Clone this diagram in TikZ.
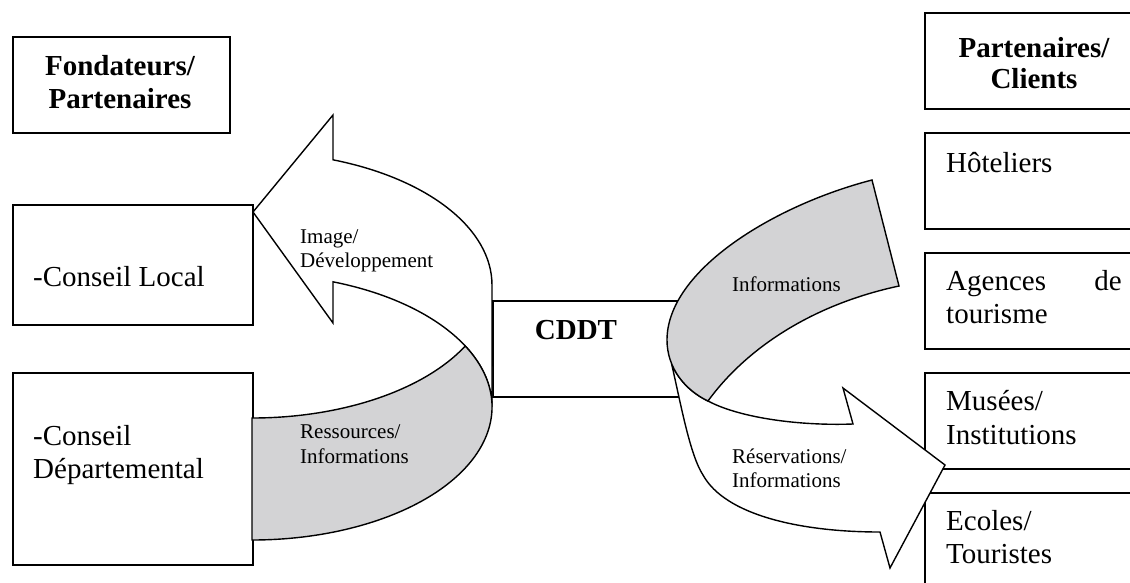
\documentclass[tikz,border=0pt]{standalone}
\usepackage{fontspec}
\setmainfont{Liberation Serif}
\definecolor{bandgray}{RGB}{211,211,213}
\tikzset{
  cadre/.style={draw, line width=1.8pt, inner sep=0pt, anchor=north west},
  ruban/.style={draw, line width=1.4pt, line join=miter},
  gros/.style={inner sep=0pt, anchor=base west, font=\fontsize{29}{34}\selectfont},
  titre/.style={inner sep=0pt, anchor=base, font=\fontsize{29}{34}\selectfont\bfseries},
  petit/.style={inner sep=0pt, anchor=base west, font=\fontsize{21}{24}\selectfont},
}

\begin{document}
\begin{tikzpicture}[x=1pt, y=-1pt]
		\useasboundingbox (0,0) rectangle (1130,582);
		\clip (0,0) rectangle (1130,582);
		%%%%% START %%%%%
		
		\node[cadre, minimum width=217pt, minimum height=96pt] (fond) at (12,36) {};
		\node[cadre, minimum width=240pt, minimum height=120pt] (local) at (12,204) {};
		\node[cadre, minimum width=240pt, minimum height=192pt] (dept) at (12,372) {};
		
		\foreach \nom/\haut in {part/12, hotel/132, agence/252, musee/372, ecole/492}
			\node[cadre, minimum width=240pt, minimum height=96pt] (\nom) at (924,\haut) {};
		
		\node[cadre, minimum width=203pt, minimum height=96pt] (cddt) at (492,300) {};
		
		% ruban gauche
		\draw[ruban, fill=white] (333,159.8) arc[start angle=-70.27, end angle=0, x radius=240, y radius=133]
			-- (492,407) arc[start angle=0, end angle=-70.27, x radius=240, y radius=133]
			-- (333,323) -- (253,212) -- (333,115) -- cycle;
		\draw[ruban, fill=bandgray] (252,418) arc[start angle=90, end angle=27.3, x radius=240, y radius=133]
			arc[start angle=-27.3, end angle=90, x radius=240, y radius=133] -- cycle;
		
		% ruban droit
		\draw[ruban, fill=white] (671.5,363.4) .. controls (681,405) and (690,455) .. (703,475)
			.. controls (725,515) and (800,532) .. (880,532) -- (890,568) -- (945,465) -- (843,388) -- (853,424)
			.. controls (800,426) and (740,418) .. (708,401)
			.. controls (691.9,393.3) and (678.25,380.2) .. (671.5,363.4) -- cycle;
		\draw[ruban, fill=bandgray] (872,180) .. controls (775,205) and (667,270) .. (667,340)
			.. controls (667,368) and (685,390) .. (708,401)
			.. controls (745,350) and (810,305) .. (899,286) -- cycle;
		
		% textes
		\node[titre] (fondA) at (120,75) {Fondateurs/};
		\node[titre] (fondB) at (120,108) {Partenaires};
		\node[titre] (partA) at (1034,57) {Partenaires/};
		\node[titre] (partB) at (1034,88) {Clients};
		\node[titre] (cddtxt) at (576,339) {CDDT};
		
		\node[gros] (localtxt) at (33,286) {-Conseil Local};
		\node[gros] (deptA) at (33,445) {-Conseil};
		\node[gros] (deptB) at (33,478) {Départemental};
		
		\node[gros] (hoteltxt) at (946,172) {Hôteliers};
		\node[gros] (agenceA) at (946,290) {Agences};
		\node[gros, anchor=base east] (agenceB) at (1122,290) {de};
		\node[gros] (agenceC) at (946,323) {tourisme};
		\node[gros] (museeA) at (946,410) {Musées/};
		\node[gros] (museeB) at (946,444) {Institutions};
		\node[gros] (ecoleA) at (946,530) {Ecoles/};
		\node[gros] (ecoleB) at (946,563) {Touristes};
		
		\node[petit] (imageA) at (300,243) {Image/};
		\node[petit] (imageB) at (300,267) {Développement};
		\node[petit] (ressA) at (300,438) {Ressources/};
		\node[petit] (ressB) at (300,463) {Informations};
		\node[petit] (infotxt) at (732,291) {Informations};
		\node[petit] (resaA) at (732,463) {Réservations/};
		\node[petit] (resaB) at (732,487) {Informations};
		
		%%%%% END %%%%%
\end{tikzpicture}
\end{document}
